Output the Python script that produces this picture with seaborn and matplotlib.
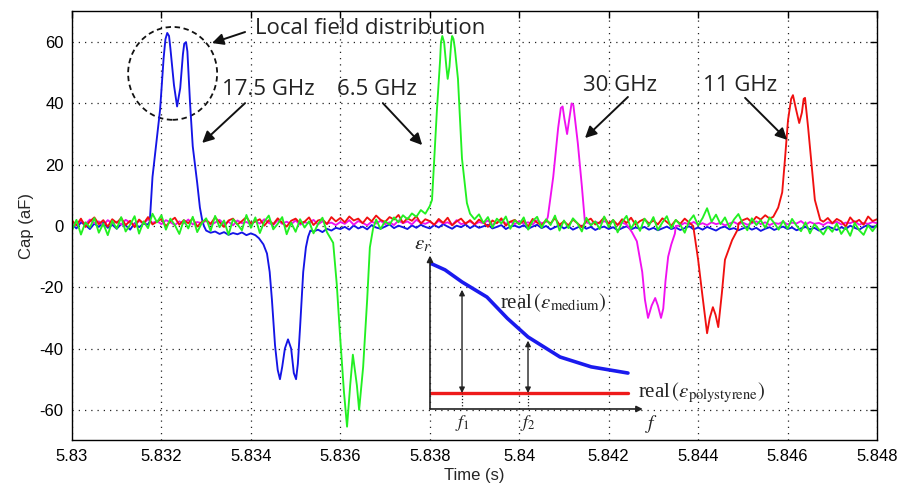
import numpy as np
import pandas as pd
import matplotlib
matplotlib.use('Agg')
import matplotlib.pyplot as plt
from matplotlib.patches import Ellipse
from matplotlib.ticker import FuncFormatter
import seaborn as sns

# ---- data ----------------------------------------------------------------
# baseline samples on a 0.1 ms grid from 5.830 s to 5.848 s (181 points)
grid_t = np.linspace(5.830, 5.848, 181)

blue_base = [
    0.5, -0.8, 1.2, 0.3, -1.0, 0.8, -0.3, 1.1, -0.6, 0.4,
    -0.9, 0.6, 0.2, -1.2, 0.9, -0.4, 0.7, 0.5, 0.0, 0.0,
    0.0, 0.0, 0.0, 0.0, 0.0, 0.0, 0.0, 0.0, 0.0, 0.0,
    -1.5, -2.2, -1.8, -2.6, -2.0, -2.9, -2.3, -2.7, -2.1, -3.0,
    -2.4, -2.8, 0.0, 0.0, 0.0, 0.0, 0.0, 0.0, 0.0, 0.0,
    0.0, 0.0, 0.0, 0.0, -1.8, -1.2, -2.0, -0.9, -1.5, -0.6,
    -1.0, -0.3, -1.2, 0.2, -0.8, -0.2, -1.1, 0.3, -0.5, -0.9,
    -0.2, 0.5, -0.7, 0.1, -0.4, -1.0, 0.2, -0.6, 0.4, -0.3,
    -0.8, 0.3, -0.5, 0.6, -0.2, -0.9, 0.1, -0.4, 0.5, -0.7,
    0.2, -0.6, -0.1, 0.4, -0.8, -0.3, 0.3, -1.0, -0.2, 0.1,
    -0.5, 0.3, -0.9, -0.2, 0.4, -0.7, 0.0, -1.1, -0.4, 0.2,
    -0.8, -0.1, -1.2, -0.5, 0.1, -0.9, -0.3, -1.3, -0.6, -0.2,
    -1.0, -0.4, -1.4, -0.7, -0.1, -1.1, -0.5, -0.9, -0.3, -1.2,
    -0.6, -1.4, -0.8, -0.2, -1.0, -0.5, -1.3, -0.7, -0.1, -1.1,
    -0.5, -1.2, -0.3, -0.9, -1.5, -0.6, -0.2, -1.1, -0.7, -1.4,
    -0.8, -0.3, -1.2, -0.6, -1.6, -0.9, -0.4, -1.3, -0.7, -0.2,
    -1.0, -0.5, -1.4, -0.8, -0.3, -1.1, -0.6, -1.5, -0.9, -0.2,
    -0.7, -1.3, -0.4, -1.0, 0.1, -0.6, -1.2, -0.3, 0.4, -0.5,
    0.2]

red_base = [
    1.8, 0.2, 2.4, -0.3, 1.5, 2.8, 0.6, 1.9, -0.2, 2.2,
    1.0, 2.6, 0.3, 1.7, -0.4, 2.1, 0.8, 2.9, 0.5, 1.4,
    2.3, -0.1, 1.6, 2.7, 0.4, 1.9, 0.9, 2.5, -0.2, 1.3,
    2.0, 0.7, 2.8, 1.2, -0.3, 1.8, 2.4, 0.5, 1.6, 2.9,
    0.8, 1.5, 2.2, 0.1, 1.9, 0.6, 2.5, 1.1, -0.2, 1.7,
    2.4, 0.9, 1.4, 2.8, 0.3, 1.8, 2.2, 0.6, 2.9, 1.5,
    2.6, 1.2, 3.1, 1.8, 2.4, 0.9, 2.8, 1.5, 3.4, 2.0,
    1.3, 2.9, 2.1, 3.6, 1.0, 2.5, 1.7, 3.2, 0.8, 2.2,
    1.6, 0.4, 2.3, 1.0, 2.7, 0.2, 1.5, 2.4, 0.7, 1.9,
    0.5, 2.1, 1.2, -0.3, 1.8, 0.9, 2.5, 0.1, 1.4, 2.0,
    0.6, 1.7, -0.2, 2.3, 1.1, 0.3, 1.9, 0.8, 2.6, 0.4,
    1.5, 0.2, 2.1, 0.9, -0.4, 1.6, 2.4, 0.5, 1.2, 2.8,
    0.7, 1.9, 0.3, 2.2, 1.0, 2.7, 0.4, 1.6, 2.3, 0.8,
    1.8, 0.5, 2.5, 1.3, 0.1, 1.9, 0.7, 2.4, 1.1, 2.9,
    0.6, 1.8, 0.3, 2.2, 1.0, 2.6, 0.4, 1.5, 2.9, 0.8,
    1.9, 2.5, 1.2, 3.0, 2.1, 3.5, 2.4, 3.8, 3.2, 4.5,
    5.0, 0.0, 0.0, 0.0, 0.0, 0.0, 0.0, 0.0, 1.4, 2.6,
    0.9, 2.3, 1.5, -0.2, 2.8, 1.1, 2.0, 0.4, 3.1, 1.6,
    2.2]

green_base = [
    -1.5, 2.0, -2.8, 1.2, -0.5, 2.6, -2.2, 0.8, -3.0, 1.7,
    -0.9, 2.9, -1.8, 0.4, 3.2, -2.5, 1.5, -0.7, 4.0, 1.2,
    3.5, -1.2, 2.4, 0.3, -2.6, 1.9, -0.8, 3.0, -2.0, 0.9,
    2.5, -1.6, 3.3, -0.4, 1.8, -2.9, 2.2, 0.5, -1.4, 3.6,
    -0.6, 2.8, -2.3, 1.4, 3.4, -1.1, 0.7, 2.9, -2.7, 1.1,
    -1.9, 2.2, -0.5, 1.5, -2.4, 0.6, 2.7, -1.3, -3.0, -2.5,
    0.0, 0.0, 0.0, 0.0, 0.0, 0.0, 0.0, 0.3, 2.1, -1.0,
    1.6, 0.4, 2.8, 1.2, 3.5, 2.2, 4.1, 3.0, 5.2, 4.0,
    6.5, 5.0, 0.0, 0.0, 0.0, 0.0, 0.0, 0.0, 0.0, 3.5,
    2.2, 3.8, 1.0, 2.9, -0.5, 2.4, 0.8, 3.1, -0.9, 1.9,
    0.5, 2.8, -1.2, 1.6, 3.0, -0.6, 2.2, 0.3, 3.4, -1.5,
    1.8, -0.7, 2.5, 0.9, -1.8, 2.7, 0.2, 1.5, -1.0, 3.1,
    -0.4, 2.0, -2.1, 1.3, 3.3, -0.9, 1.7, -1.6, 2.4, 0.1,
    2.9, -1.3, 1.1, 3.2, -0.8, 2.0, 0.4, -2.2, 1.6, 3.5,
    0.2, 2.6, 5.8, 1.4, 3.7, 0.6, 2.8, -0.5, 2.1, 3.9,
    0.7, -1.4, 2.5, 0.3, 1.9, -0.6, 2.8, 1.0, -1.2, 1.7,
    -0.9, 2.3, 0.1, -1.7, 1.2, -2.4, 0.6, -1.1, -2.8, -0.3,
    -1.9, 0.8, -2.6, -0.5, -3.2, 1.0, -1.4, -2.9, 0.2, -1.7,
    0.4]

magenta_base = [
    1.2, 0.3, 1.8, 0.6, 2.1, 0.9, 1.5, 0.2, 1.9, 0.8,
    1.4, 0.5, 2.0, 1.1, 0.4, 1.7, 0.7, 2.2, 1.0, 1.6,
    0.6, 1.9, 1.2, 0.3, 1.5, 0.8, 2.1, 0.5, 1.3, 0.9,
    1.7, 0.4, 1.1, 2.0, 0.6, 1.4, 0.2, 1.8, 0.9, 1.3,
    0.5, 1.6, 0.8, 2.2, 1.0, 0.3, 1.9, 0.7, 1.4, 0.6,
    1.8, 0.4, 1.2, 0.9, 2.0, 0.5, 1.5, 0.8, 1.1, 0.3,
    1.3, 0.7, 1.9, 0.4, 1.6, 1.0, 0.2, 1.4, 0.8, 1.7,
    0.6, 1.2, 0.3, 1.8, 0.9, 1.5, 0.5, 2.0, 1.1, 0.7,
    1.4, 0.4, 1.7, 0.8, 1.2, 0.3, 1.9, 0.6, 1.0, 1.5,
    0.5, 1.3, 0.9, 1.8, 0.4, 1.1, 2.0, 0.7, 1.4, 0.6,
    1.6, 0.8, 1.2, 0.5, 1.9, 0.9, 1.3, 2.0, 2.6, 1.5,
    0.0, 0.0, 0.0, 0.0, 0.0, 1.2, 0.6, 1.4, 0.8, 1.6,
    0.9, 1.5, 0.4, 1.1, 0.7, 0.0, 0.0, 0.0, 0.0, 0.0,
    0.0, 0.0, 0.0, 0.0, 0.0, 0.0, 0.2, 1.0, 0.5, 1.3,
    0.4, 0.9, 0.3, 1.2, 0.6, 1.0, 0.2, 0.8, 1.3, 0.5,
    1.1, 0.4, 0.9, 1.5, 0.6, 1.2, 0.3, 1.0, 0.7, 1.4,
    0.5, 1.1, 0.8, 1.6, 0.4, 1.3, 0.7, 1.0, 0.3, 1.2,
    0.8, 1.4, 0.5, 1.1, 0.9, 1.6, 0.4, 1.0, 0.7, 1.3,
    0.9]

# pulses (time s, capacitance aF)
blue_pulse_t = [5.8317, 5.83174, 5.8318, 5.83197, 5.83205, 5.83209, 5.83213, 5.83217,
                5.8322, 5.83228, 5.83235, 5.83242, 5.83248, 5.83251, 5.83255, 5.83258,
                5.83264, 5.8327, 5.8328, 5.83286, 5.83291, 5.83295]
blue_pulse_v = [0.5, 1.5, 16, 38, 55, 61, 63, 62, 58, 46, 39, 45, 56, 59.5, 60, 57,
                40, 26, 14, 6, 2, 0]
blue_dip_t = [5.8341, 5.83418, 5.83428, 5.83436, 5.83442, 5.83447, 5.83454, 5.8346, 5.83465,
              5.8347, 5.83476, 5.83483, 5.8349, 5.83496, 5.83501, 5.83505, 5.8351, 5.83517,
              5.83523, 5.83528, 5.83533]
blue_dip_v = [-3, -4, -6, -9, -15, -24, -39, -47, -50, -46, -40, -37, -40, -48, -50, -45, -33,
              -15, -7, -3.5, -1.5]

green_dip_t = [5.8357, 5.83584, 5.83592, 5.83599, 5.83608, 5.83615, 5.83622, 5.83628, 5.83637,
               5.83642, 5.83651, 5.8366, 5.83666, 5.83673]
green_dip_v = [-2, -5.5, -19, -35, -54, -65.5, -52, -42, -52, -60, -46, -24, -7, -1]
green_pulse_t = [5.83805, 5.83816, 5.83823, 5.83825, 5.83828, 5.83832, 5.83837, 5.8384,
                 5.83844, 5.83848, 5.8385, 5.83853, 5.83856, 5.83863, 5.83872, 5.83883,
                 5.8389]
green_pulse_v = [8.5, 38, 54, 60, 62, 60, 52, 48, 52, 60, 62, 61, 58, 48, 22, 7.5, 4]

magenta_pulse_t = [5.84064, 5.84076, 5.84087, 5.84093, 5.84097, 5.84101, 5.84107, 5.84113,
                   5.84117, 5.84121, 5.84131, 5.8414, 5.84147]
magenta_pulse_v = [3, 16, 32, 38.5, 39, 35, 30, 36, 40, 39.5, 27, 13, 1]
magenta_dip_t = [5.8424, 5.84252, 5.84263, 5.84275, 5.84281, 5.84288, 5.84296, 5.84304,
                 5.8431, 5.84317, 5.84322, 5.84327, 5.84333, 5.8434, 5.84348]
magenta_dip_v = [0.5, -2, -5, -15, -24, -30, -26, -23.5, -26, -30, -27, -18, -10, -6, -2.5]

red_dip_t = [5.84389, 5.844, 5.84409, 5.8442, 5.84426, 5.84433, 5.84439, 5.84445, 5.84453,
             5.8446, 5.84476, 5.84489]
red_dip_v = [0, -11, -22, -35, -30, -26.5, -29, -33, -22, -11, -4.6, -1]
red_pulse_t = [5.84568, 5.84579, 5.84588, 5.84594, 5.84601, 5.84608, 5.84612, 5.84619,
               5.84626, 5.84632, 5.84636, 5.84639, 5.84646, 5.84655, 5.84661, 5.84673]
red_pulse_v = [3, 6, 11, 21.5, 34.6, 41.5, 42.7, 38, 33.6, 37, 41.5, 41.8, 32, 18, 8.5, 2]

# inset sketch: permittivity vs frequency
inset_f = [0.0, 0.07, 0.149, 0.265, 0.36, 0.456, 0.605, 0.75, 0.921]
inset_eps_medium = [0.918, 0.875, 0.799, 0.704, 0.57, 0.453, 0.327, 0.265, 0.226]
inset_eps_poly = [0.1] * len(inset_f)


def merge(base, pulses):
    t = np.asarray(grid_t)
    v = np.asarray(base, dtype=float)
    keep = np.ones(len(t), dtype=bool)
    for pt, pv in pulses:
        keep &= ~((t >= pt[0] - 1e-9) & (t <= pt[-1] + 1e-9))
    tt = np.concatenate([t[keep]] + [np.asarray(p[0]) for p in pulses])
    vv = np.concatenate([v[keep]] + [np.asarray(p[1], dtype=float) for p in pulses])
    order = np.argsort(tt)
    return tt[order], vv[order]


traces = {
    'blue': merge(blue_base, [(blue_pulse_t, blue_pulse_v), (blue_dip_t, blue_dip_v)]),
    'magenta': merge(magenta_base, [(magenta_pulse_t, magenta_pulse_v),
                                    (magenta_dip_t, magenta_dip_v)]),
    'red': merge(red_base, [(red_dip_t, red_dip_v), (red_pulse_t, red_pulse_v)]),
    'green': merge(green_base, [(green_dip_t, green_dip_v), (green_pulse_t, green_pulse_v)]),
}
frames = [pd.DataFrame({'t': tv[0], 'cap': tv[1], 'trace': k}) for k, tv in traces.items()]
df = pd.concat(frames, ignore_index=True)
colors = {'blue': '#1414e6', 'magenta': '#f010f0', 'red': '#f01010', 'green': '#22f022'}

# ---- figure --------------------------------------------------------------
sns.set_style('white')
plt.rcParams['font.family'] = ['Liberation Sans', 'DejaVu Sans']
plt.rcParams['axes.unicode_minus'] = False
plt.rcParams['mathtext.fontset'] = 'stix'

fig = plt.figure(figsize=(9.01, 4.91), dpi=100)
ax = fig.add_axes([0.0799, 0.1029, 0.8935, 0.8737])

sns.lineplot(data=df, x='t', y='cap', hue='trace', palette=colors,
             hue_order=['blue', 'magenta', 'red', 'green'],
             estimator=None, sort=False, lw=1.35, legend=False, ax=ax)

ax.set_xlim(5.83, 5.848)
ax.set_ylim(-70, 70)
ax.set_xticks(np.linspace(5.83, 5.848, 10))
ax.set_yticks([-60, -40, -20, 0, 20, 40, 60])
ax.xaxis.set_major_formatter(FuncFormatter(lambda x, p: '%g' % round(x, 3)))
ax.grid(True, color='#222222', linestyle=(0, (1, 4)), lw=0.9)
ax.tick_params(direction='in', length=5, width=1, top=True, right=True,
               labelsize=12, colors='black', pad=6)
for s in ax.spines.values():
    s.set_color('black')
    s.set_linewidth(1)
ax.set_xlabel('Time (s)', fontsize=12, labelpad=3)
ax.set_ylabel('Cap (aF)', fontsize=12, labelpad=4)

# annotations
afont = dict(family=['Open Sans', 'DejaVu Sans'], fontsize=16, color='#222222')
arr = dict(arrowstyle='-|>', color='#111111', lw=1.4, mutation_scale=17,
           shrinkA=0, shrinkB=0)
ax.add_patch(Ellipse((5.83225, 49.8), 0.00199, 30.3, fill=False, ec='#111111',
                     lw=1.3, ls=(0, (3, 2))))
ax.text(5.83409, 64.4, 'Local field distribution', ha='left', va='center', **afont)
ax.annotate('', xy=(5.83313, 59.7), xytext=(5.83387, 63.3), arrowprops=arr)
ax.text(5.8344, 44.5, '17.5 GHz', ha='center', va='center', **afont)
ax.annotate('', xy=(5.83291, 27.1), xytext=(5.83387, 40.1), arrowprops=arr)
ax.text(5.83682, 44.5, '6.5 GHz', ha='center', va='center', **afont)
ax.annotate('', xy=(5.83783, 26.4), xytext=(5.83695, 40.1), arrowprops=arr)
ax.text(5.84226, 46, '30 GHz', ha='center', va='center', **afont)
ax.annotate('', xy=(5.84147, 28.7), xytext=(5.84243, 42.1), arrowprops=arr)
ax.text(5.84494, 46, '11 GHz', ha='center', va='center', **afont)
ax.annotate('', xy=(5.84599, 28.1), xytext=(5.84505, 41.8), arrowprops=arr)

# inset diagram
ins = ax.inset_axes([0.4447, 0.0734, 0.267, 0.3706])
ins.set_xlim(0, 1)
ins.set_ylim(0, 1)
ins.axis('off')
ins.patch.set_alpha(0)
sns.lineplot(x=inset_f, y=inset_eps_medium, color='#1a1aee', lw=2.6, ax=ins)
sns.lineplot(x=inset_f, y=inset_eps_poly, color='#ee1a1a', lw=2.4, ax=ins)
ins.set_xticks([])
ins.set_yticks([])
ax_arr = dict(arrowstyle='-|>', color='#222222', lw=1.2, mutation_scale=9,
              shrinkA=0, shrinkB=0)
ins.annotate('', xy=(0, 0.965), xytext=(0, 0), arrowprops=ax_arr, annotation_clip=False)
ins.annotate('', xy=(0.99, 0), xytext=(0, 0), arrowprops=ax_arr, annotation_clip=False)
dbl = dict(arrowstyle='<|-|>', color='#222222', lw=1.0, mutation_scale=8,
           shrinkA=0, shrinkB=0)
for fx, top in [(0.149, 0.75), (0.456, 0.43)]:
    ins.annotate('', xy=(fx, top), xytext=(fx, 0.1), arrowprops=dbl)
    ins.plot([fx, fx], [0, 0.1], color='#222222', lw=0.9, ls=(0, (1, 1.5)))
serif = dict(family=['Liberation Serif', 'DejaVu Serif'], color='#222222')
ins.text(-0.035, 1.03, r'$\varepsilon_r$', ha='center', va='center', fontsize=15,
         zorder=5, clip_on=False, **serif)
ins.text(0.149, -0.025, r'$f_1$', ha='center', va='top', fontsize=13, **serif)
ins.text(0.456, -0.025, r'$f_2$', ha='center', va='top', fontsize=13, **serif)
ins.text(1.03, -0.025, r'$f$', ha='center', va='top', fontsize=14, **serif)
ins.text(0.326, 0.667, r'real$\,(\varepsilon_{\rm medium})$', ha='left', va='center',
         fontsize=15, **serif)
ins.text(0.967, 0.1, r'real$\,(\varepsilon_{\rm polystyrene})$', ha='left', va='center',
         fontsize=15, clip_on=False, **serif)

fig.savefig('out.png', dpi=100)
